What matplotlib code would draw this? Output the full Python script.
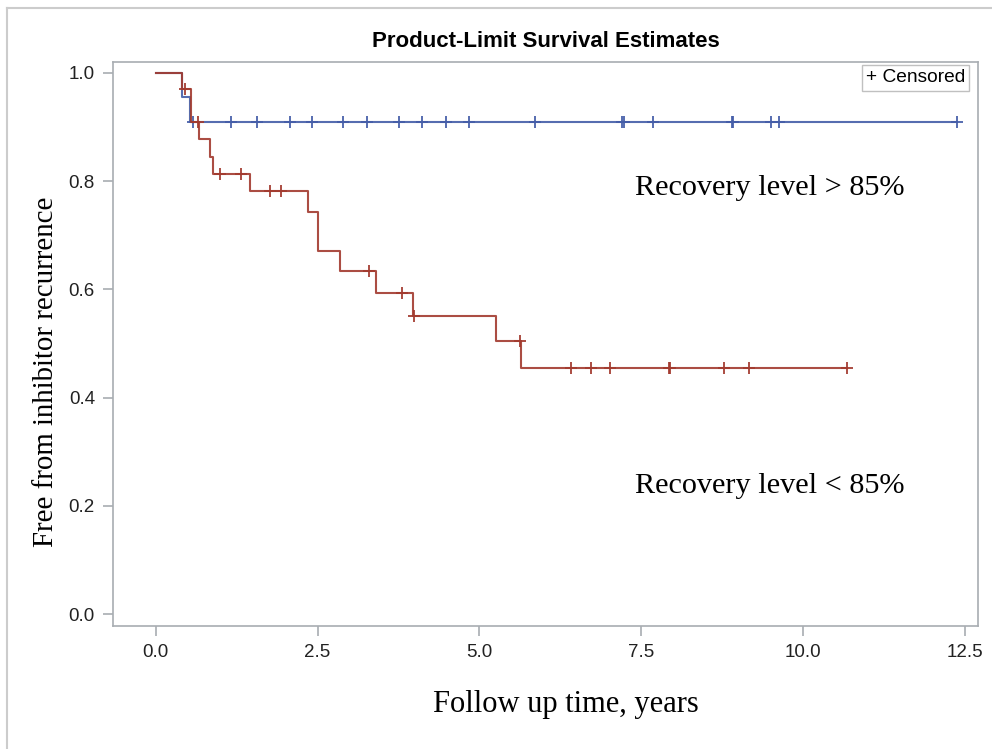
import numpy as np
import matplotlib.pyplot as plt
from matplotlib.lines import Line2D

# Kaplan-Meier steps
blue_t = [0.0, 0.40, 0.53]
blue_s = [1.0, 0.955, 0.909]
blue_cens = [0.57, 1.17, 1.56, 2.08, 2.42, 2.90, 3.26, 3.76, 4.12, 4.48, 4.84,
             5.86, 7.20, 7.24, 7.68, 8.90, 8.92, 9.50, 9.62, 12.38]

red_t = [0.0, 0.40, 0.545, 0.67, 0.84, 0.88, 1.46, 2.35, 2.50, 2.85, 3.40,
         3.98, 5.26, 5.64]
red_s = [1.0, 0.97, 0.909, 0.878, 0.845, 0.813, 0.782, 0.743, 0.671, 0.633,
         0.593, 0.55, 0.504, 0.454]
red_cens = [0.45, 0.66, 1.00, 1.31, 1.77, 1.94, 3.29, 3.81, 3.99, 5.63, 6.42,
            6.72, 7.01, 7.92, 7.95, 8.78, 9.16, 10.68]

xticks = [0.0, 2.5, 5.0, 7.5, 10.0, 12.5]
yticks = [0.0, 0.2, 0.4, 0.6, 0.8, 1.0]

blue = '#445da8'
red = '#a23a2e'
grey = '#a8adb2'
sans = 'Liberation Sans'
serif = 'Liberation Serif'


def surv_at(times, surv, pts):
    idx = np.searchsorted(times, pts, side='right') - 1
    return np.array(surv)[idx]


fig = plt.figure(figsize=(9.92, 7.49), dpi=100)
ax = fig.add_axes([113 / 992, 1 - 626 / 749, 865 / 992, 564 / 749])

for t, s, c, col in [(blue_t, blue_s, blue_cens, blue), (red_t, red_s, red_cens, red)]:
    xs = list(t) + [max(c)]
    ys = list(s) + [s[-1]]
    ax.plot(xs, ys, drawstyle='steps-post', color=col, lw=1.5, alpha=0.9)
    ax.plot(c, surv_at(t, s, c), ls='none', marker='+', ms=8, mew=1.4,
            color=col, alpha=0.9)

ax.set_xlim(-0.66, 12.70)
ax.set_ylim(-0.022, 1.020)
ax.set_xticks(xticks)
ax.set_xticklabels([f'{v:.1f}' for v in xticks])
ax.set_yticks(yticks)
ax.set_yticklabels([f'{v:.1f}' for v in yticks])
for sp in ax.spines.values():
    sp.set_color(grey)
    sp.set_linewidth(1.2)
ax.tick_params(direction='out', length=7, width=1.2, color=grey,
               labelsize=13.5, labelcolor='#222222', pad=6)
for lab in ax.get_xticklabels() + ax.get_yticklabels():
    lab.set_family(sans)

ax.set_title('Product-Limit Survival Estimates', fontsize=16,
             fontweight='bold', family=sans, pad=11)
ax.set_xlabel('Follow up time, years', fontsize=22, family=serif)
ax.xaxis.set_label_coords(0.524, -0.113)
ax.set_ylabel('Free from inhibitor recurrence', fontsize=20.8, family=serif)
ax.yaxis.set_label_coords(-0.063, 0.451)

ax.text(7.40, 0.787, 'Recovery level > 85%', fontsize=21.8, family=serif,
        va='center', ha='left')
ax.text(7.40, 0.237, 'Recovery level < 85%', fontsize=21.8, family=serif,
        va='center', ha='left')

ax.text(0.985, 0.987, '+ Censored', transform=ax.transAxes, ha='right',
        va='top', fontsize=13.8, family=sans,
        bbox=dict(boxstyle='square,pad=0.22', fc='white', ec='#c0c0c0', lw=1))

# outer frame of the exported graph
fig.add_artist(Line2D([7 / 992, 7 / 992], [0, 1 - 8 / 749], color='#cccccc', lw=1.5))
fig.add_artist(Line2D([7 / 992, 1], [1 - 8 / 749, 1 - 8 / 749], color='#cccccc', lw=1.5))

fig.savefig('out.png', dpi=100)
